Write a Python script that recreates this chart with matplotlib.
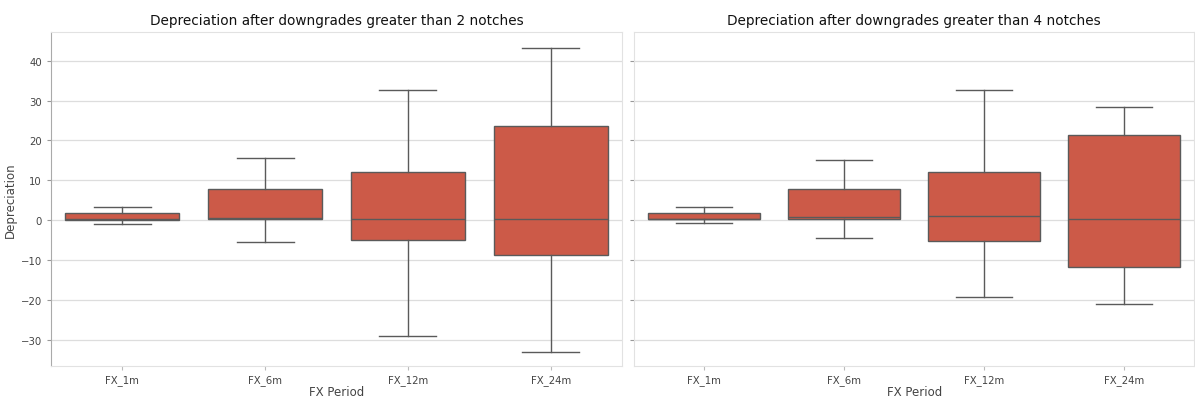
import numpy as np
import matplotlib.pyplot as plt

periods = ["FX_1m", "FX_6m", "FX_12m", "FX_24m"]

# left panel: downgrades > 2 notches
low2 = [-0.9, -5.5, -29.1, -33.0]
q1_2 = [0.1, 0.2, -5.0, -8.7]
med2 = [0.4, 0.6, 0.4, 0.25]
q3_2 = [1.7, 7.8, 12.0, 23.5]
high2 = [3.4, 15.7, 32.6, 43.2]

# right panel: downgrades > 4 notches
low4 = [-0.8, -4.5, -19.3, -21.1]
q1_4 = [0.2, 0.2, -5.35, -11.85]
med4 = [0.4, 0.7, 1.15, 0.17]
q3_4 = [1.7, 7.8, 12.0, 21.4]
high4 = [3.2, 15.2, 32.6, 28.5]

titles = ["Depreciation after downgrades greater than 2 notches",
          "Depreciation after downgrades greater than 4 notches"]

box_color = "#cc5a48"
line_color = "#5a5a5a"


def make_stats(lo, q1, med, q3, hi):
    out = []
    for name, a, b, c, d, e in zip(periods, lo, q1, med, q3, hi):
        out.append(dict(label=name, whislo=a, q1=b, med=c, q3=d, whishi=e, fliers=[]))
    return out


fig = plt.figure(figsize=(11.95, 4.02), dpi=100)
ax1 = fig.add_axes([0.0427, 0.087, 0.4778, 0.831])
ax2 = fig.add_axes([0.5305, 0.087, 0.4690, 0.831], sharey=ax1)

panels = [(ax1, make_stats(low2, q1_2, med2, q3_2, high2)),
          (ax2, make_stats(low4, q1_4, med4, q3_4, high4))]

for i, (ax, stats) in enumerate(panels):
    ax.bxp(stats, positions=np.arange(len(periods)), widths=0.8,
           patch_artist=True, showfliers=False,
           boxprops=dict(facecolor=box_color, edgecolor=line_color, linewidth=1.0),
           medianprops=dict(color=line_color, linewidth=1.0),
           whiskerprops=dict(color=line_color, linewidth=1.0),
           capprops=dict(color=line_color, linewidth=1.0))
    ax.set_xlim(-0.5, 3.5)
    ax.set_title(titles[i], fontsize=9.8, pad=6, color="#111111")
    ax.set_xlabel("FX Period", fontsize=8.5, color="#444444", labelpad=0)
    ax.grid(axis="y", color="#dddddd", linewidth=0.9)
    ax.set_axisbelow(True)
    for s in ax.spines.values():
        s.set_color("#e2e2e2")
    ax.tick_params(axis="both", labelsize=7.3, colors="#444444", length=3)
    ax.tick_params(axis="x", color="#bbbbbb", pad=3)
    ax.tick_params(axis="y", color="#999999")

ax1.set_ylim(-36.6, 47.2)
ax1.set_yticks([-30, -20, -10, 0, 10, 20, 30, 40])
ax1.set_ylabel("Depreciation", fontsize=8.5, color="#444444", labelpad=3)
ax1.spines["left"].set_color("#aaaaaa")
ax2.tick_params(axis="y", labelleft=False)

fig.savefig("out.png", dpi=100)
